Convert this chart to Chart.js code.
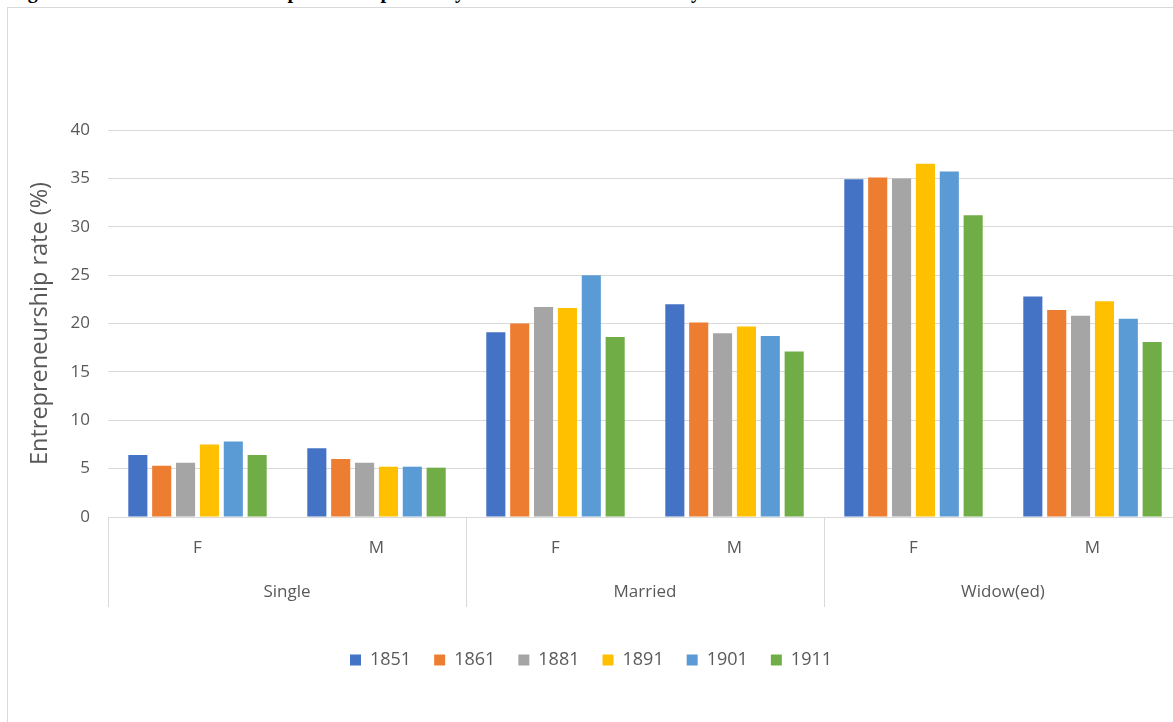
<!DOCTYPE html>
<html>
<head>
<meta charset="utf-8">
<script src="https://cdn.jsdelivr.net/npm/chart.js@4"></script>
<style>
  html, body { margin: 0; padding: 0; background: #fff; }
  body { width: 1173px; height: 722px; overflow: hidden; position: relative; }
  #cut-title { position: absolute; left: 10px; top: -20px; font: bold 20px "Liberation Serif", "Times New Roman", serif; color: #000; white-space: nowrap; }
  #frame { position: absolute; left: 7px; top: 7px; width: 1200px; height: 760px; border: 1px solid #d9d9d9; box-sizing: border-box; }
  #chart-main { position: absolute; left: 0; top: 0; }
</style>
</head>
<body>
<div id="cut-title">Figure 3: Female and male entrepreneurship rates by marital status and census year</div>
<div id="frame"></div>
<canvas id="chart-main" width="1190" height="722"></canvas>
<script>
// marital status groups, each split by sex
const GROUPS = ["Single", "Married", "Widow(ed)"];
const SEXES = ["F", "M", "F", "M", "F", "M"];
const YEARS = ["1851", "1861", "1881", "1891", "1901", "1911"];
const COLORS = ["#4472C4", "#ED7D31", "#A5A5A5", "#FFC000", "#5B9BD5", "#70AD47"];

// one array per census year, order = Single F, Single M, Married F, Married M, Widow F, Widow M
const RATE_1851 = [6.4, 7.1, 19.1, 22.0, 34.9, 22.8];
const RATE_1861 = [5.3, 6.0, 20.0, 20.1, 35.1, 21.4];
const RATE_1881 = [5.6, 5.6, 21.7, 19.0, 35.0, 20.8];
const RATE_1891 = [7.5, 5.2, 21.6, 19.7, 36.5, 22.3];
const RATE_1901 = [7.8, 5.2, 25.0, 18.7, 35.7, 20.5];
const RATE_1911 = [6.4, 5.1, 18.6, 17.1, 31.2, 18.1];
const SERIES = [RATE_1851, RATE_1861, RATE_1881, RATE_1891, RATE_1901, RATE_1911];

const Y_TICKS = [0, 5, 10, 15, 20, 25, 30, 35, 40];

Chart.defaults.font.family = "'Open Sans', 'Liberation Sans', sans-serif";
Chart.defaults.color = "#595959";

// vertical separators of the two-level category axis
const groupLines = {
  id: "groupLines",
  afterDraw(chart) {
    const x = chart.scales.x, x2 = chart.scales.x2, c = chart.ctx;
    const half = (x.getPixelForTick(1) - x.getPixelForTick(0)) / 2;
    c.save();
    c.strokeStyle = "#d9d9d9";
    c.lineWidth = 1;
    for (let i = 0; i <= SEXES.length; i += 2) {
      const px = Math.round(i < SEXES.length ? x.getPixelForTick(i) - half : x.getPixelForTick(i - 1) + half) + 0.5;
      c.beginPath();
      c.moveTo(px, x.top);
      c.lineTo(px, x2.top + 42);
      c.stroke();
    }
    c.restore();
  },
};

const ctx = document.getElementById("chart-main").getContext("2d");
new Chart(ctx, {
  type: "bar",
  data: {
    labels: SEXES,
    datasets: YEARS.map((y, i) => ({
      label: y, data: SERIES[i], backgroundColor: COLORS[i],
      categoryPercentage: 0.8, barPercentage: 0.8, xAxisID: "x", yAxisID: "y",
    })),
  },
  options: {
    responsive: false,
    animation: false,
    layout: { padding: { top: 130, right: 8, bottom: 43, left: 0 } },
    scales: {
      x: {
        type: "category", position: "bottom", offset: true,
        grid: { display: false },
        border: { display: true, color: "#d9d9d9", width: 1 },
        ticks: { font: { size: 17 }, padding: 13, color: "#595959" },
        afterFit: s => { s.height = 48; },
      },
      x2: {
        type: "category", position: "bottom", offset: true, labels: GROUPS,
        grid: { display: false }, border: { display: false },
        ticks: { font: { size: 17 }, padding: 9, color: "#595959" },
        afterFit: s => { s.height = 63; },
      },
      y: {
        min: 0, max: 40,
        afterBuildTicks: s => { s.ticks = Y_TICKS.map(v => ({ value: v })); },
        grid: { color: "#d9d9d9", drawTicks: false, lineWidth: 1 },
        border: { display: false },
        ticks: { font: { size: 17 }, padding: 18, color: "#595959" },
        title: { display: true, text: "Entrepreneurship rate (%)", font: { size: 23.5 }, color: "#595959", padding: { top: 26, bottom: 0 } },
        afterFit: s => { s.width = 108; },
      },
    },
    plugins: {
      legend: {
        position: "bottom",
        labels: { boxWidth: 11, boxHeight: 11, padding: 23, font: { size: 18 }, color: "#595959" },
      },
      tooltip: { enabled: false },
    },
  },
  plugins: [groupLines],
});
</script>
</body>
</html>
